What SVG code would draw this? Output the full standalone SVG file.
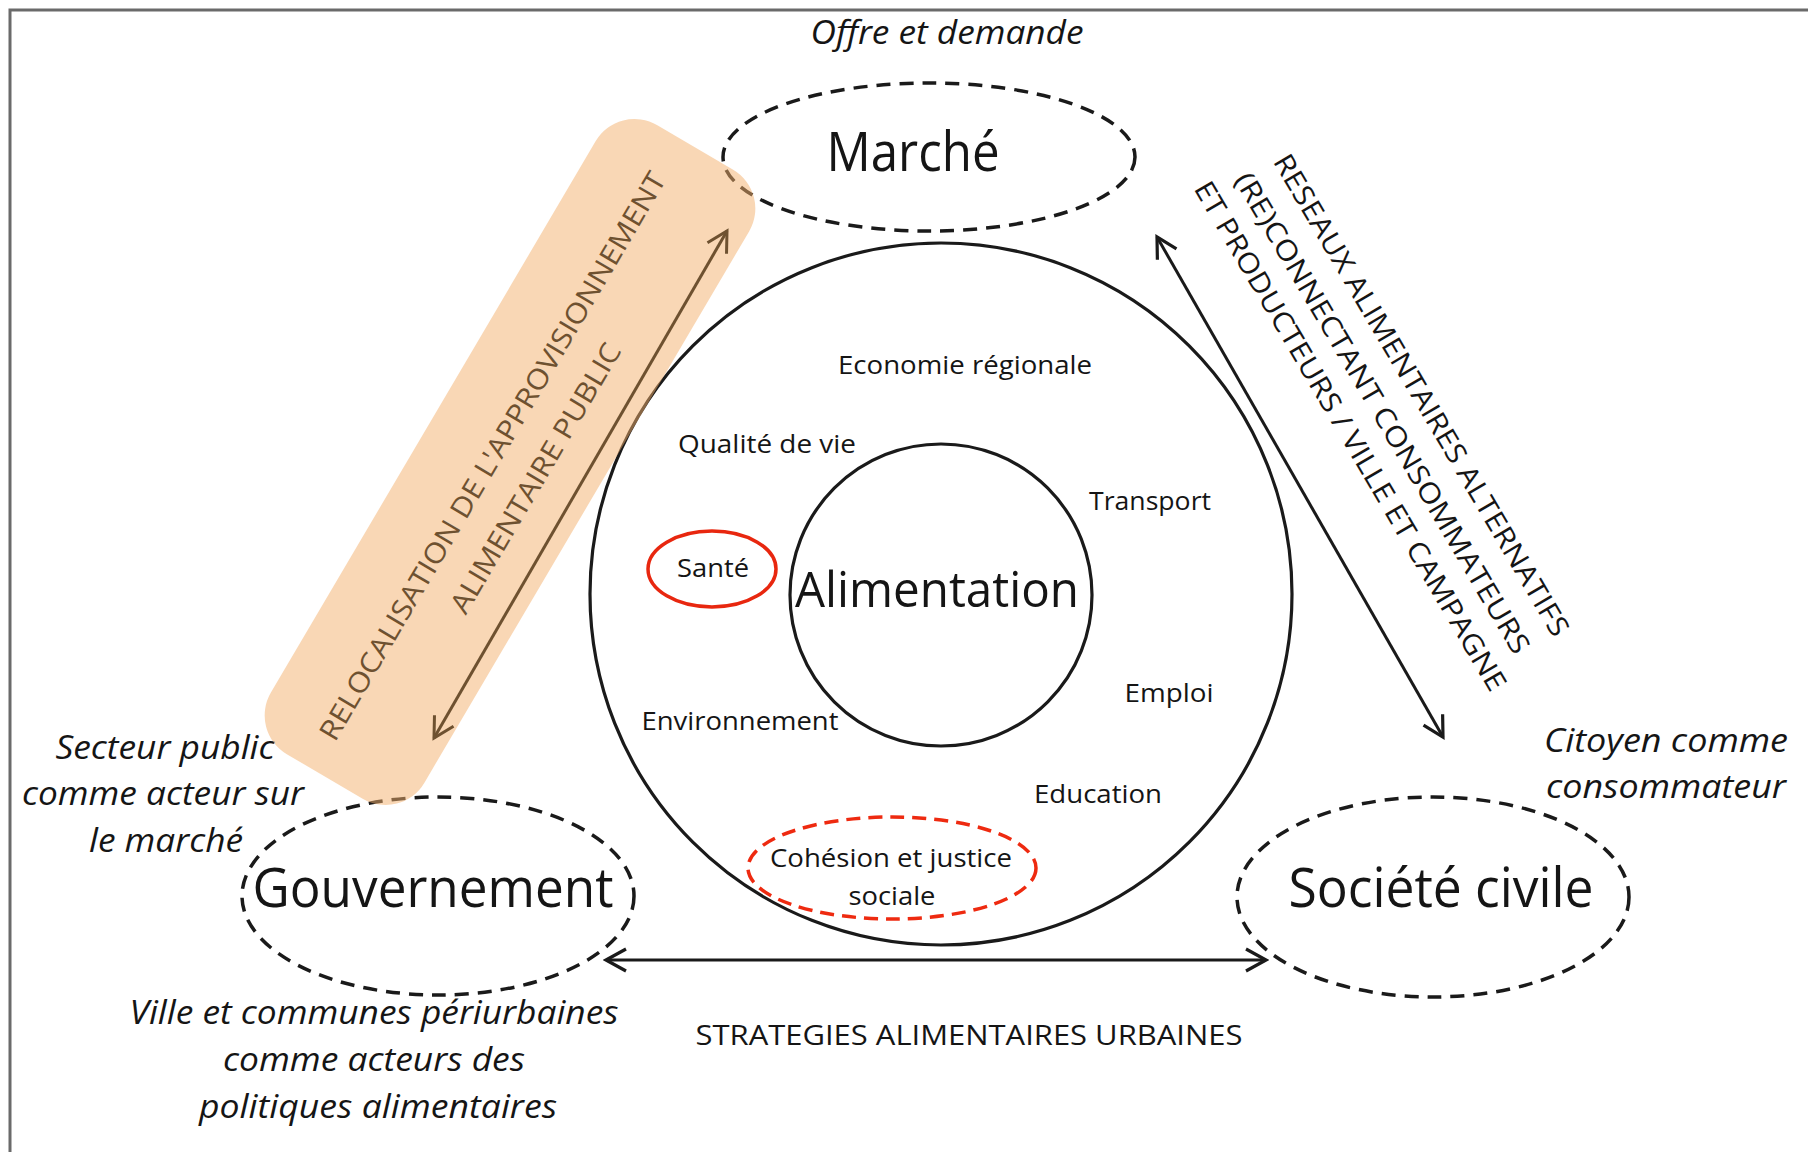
<svg xmlns="http://www.w3.org/2000/svg" width="1808" height="1152" viewBox="0 0 1808 1152">
<style>
.t{font-family:"Open Sans","Liberation Sans",sans-serif;fill:#151515;}
.it{font-family:"Open Sans","Liberation Sans",sans-serif;font-style:italic;fill:#151515;font-size:33px;}
.lab{font-size:26px;}
.big{font-size:55px;}
.dash{fill:none;stroke:#1a1a1a;stroke-width:3.5;stroke-dasharray:14 9;}
.caps{font-family:"Open Sans","Liberation Sans",sans-serif;font-size:28px;}
</style>
<defs>
<marker id="ahb" viewBox="0 0 26 26" refX="23" refY="13" markerWidth="26" markerHeight="26" markerUnits="userSpaceOnUse" orient="auto-start-reverse">
<path d="M3,2 L23,13 L3,24" fill="none" stroke="#1a1a1a" stroke-width="3.2"/>
</marker>
<marker id="ahbr" viewBox="0 0 26 26" refX="23" refY="13" markerWidth="26" markerHeight="26" markerUnits="userSpaceOnUse" orient="auto-start-reverse">
<path d="M3,2 L23,13 L3,24" fill="none" stroke="#6e5130" stroke-width="3"/>
</marker>
</defs>
<rect width="1808" height="1152" fill="#ffffff"/>
<path d="M10,1152 V10 H1808" fill="none" stroke="#6a6a6a" stroke-width="3"/>

<g id="alimentation-outer">
<circle cx="941" cy="594" r="351" fill="none" stroke="#1a1a1a" stroke-width="3.2"/>
<text class="t lab" x="965" y="374" text-anchor="middle" textLength="254" lengthAdjust="spacingAndGlyphs">Economie régionale</text>
<text class="t lab" x="767" y="453" text-anchor="middle" textLength="178" lengthAdjust="spacingAndGlyphs">Qualité de vie</text>
<text class="t lab" x="1150" y="510" text-anchor="middle" textLength="122" lengthAdjust="spacingAndGlyphs">Transport</text>
<text class="t lab" x="1169" y="702" text-anchor="middle" textLength="89" lengthAdjust="spacingAndGlyphs">Emploi</text>
<text class="t lab" x="740" y="730" text-anchor="middle" textLength="197" lengthAdjust="spacingAndGlyphs">Environnement</text>
<text class="t lab" x="1098" y="803" text-anchor="middle" textLength="128" lengthAdjust="spacingAndGlyphs">Education</text>
</g>

<g id="sante">
<ellipse cx="712" cy="569" rx="64" ry="38" fill="none" stroke="#e8270f" stroke-width="3.5"/>
<text class="t lab" x="713" y="577" text-anchor="middle" textLength="72" lengthAdjust="spacingAndGlyphs">Santé</text>
</g>

<g id="cohesion">
<ellipse cx="892" cy="868" rx="144" ry="51" fill="none" stroke="#ee2a10" stroke-width="3.5" stroke-dasharray="14 8"/>
<text class="t lab" x="891" y="867" text-anchor="middle" textLength="242" lengthAdjust="spacingAndGlyphs">Cohésion et justice</text>
<text class="t lab" x="892" y="905" text-anchor="middle" textLength="87" lengthAdjust="spacingAndGlyphs">sociale</text>
</g>

<g id="alimentation-inner">
<circle cx="941" cy="595" r="151" fill="none" stroke="#1a1a1a" stroke-width="3.2"/>
<text class="t" x="937" y="607" font-size="50" text-anchor="middle" textLength="284" lengthAdjust="spacingAndGlyphs">Alimentation</text>
</g>

<g id="marche">
<text class="it" x="947" y="44" text-anchor="middle" textLength="273" lengthAdjust="spacingAndGlyphs">Offre et demande</text>
<ellipse class="dash" cx="929" cy="157" rx="206" ry="74"/>
<text class="t big" x="913" y="171" text-anchor="middle" textLength="173" lengthAdjust="spacingAndGlyphs">Marché</text>
</g>

<g id="gouvernement">
<ellipse class="dash" cx="438" cy="896" rx="196" ry="99"/>
<text class="t big" x="433" y="907" text-anchor="middle" textLength="361" lengthAdjust="spacingAndGlyphs">Gouvernement</text>
<text class="it" x="165" y="759" text-anchor="middle" textLength="219" lengthAdjust="spacingAndGlyphs">Secteur public</text>
<text class="it" x="163" y="805" text-anchor="middle" textLength="282" lengthAdjust="spacingAndGlyphs">comme acteur sur</text>
<text class="it" x="166" y="852" text-anchor="middle" textLength="154" lengthAdjust="spacingAndGlyphs">le marché</text>
<text class="it" x="374" y="1024" text-anchor="middle" textLength="489" lengthAdjust="spacingAndGlyphs">Ville et communes périurbaines</text>
<text class="it" x="374" y="1071" text-anchor="middle" textLength="302" lengthAdjust="spacingAndGlyphs">comme acteurs des</text>
<text class="it" x="378" y="1118" text-anchor="middle" textLength="358" lengthAdjust="spacingAndGlyphs">politiques alimentaires</text>
</g>

<g id="societe-civile">
<ellipse class="dash" cx="1433" cy="897" rx="196" ry="100"/>
<text class="t big" x="1441" y="907" text-anchor="middle" textLength="305" lengthAdjust="spacingAndGlyphs">Société civile</text>
<text class="it" x="1666" y="752" text-anchor="middle" textLength="244" lengthAdjust="spacingAndGlyphs">Citoyen comme</text>
<text class="it" x="1666" y="798" text-anchor="middle" textLength="240" lengthAdjust="spacingAndGlyphs">consommateur</text>
</g>

<g id="connectors">
<line x1="606" y1="960" x2="1266" y2="960" stroke="#1a1a1a" stroke-width="3.2" marker-start="url(#ahb)" marker-end="url(#ahb)"/>
<text class="caps" x="969" y="1045" fill="#151515" text-anchor="middle" textLength="547" lengthAdjust="spacingAndGlyphs">STRATEGIES ALIMENTAIRES URBAINES</text>
<line x1="1157" y1="237" x2="1443" y2="737" stroke="#1a1a1a" stroke-width="3" marker-start="url(#ahb)" marker-end="url(#ahb)"/>
<g class="caps" fill="#151515" text-anchor="middle">
<text transform="translate(1413,400) rotate(59.5)" textLength="554" lengthAdjust="spacingAndGlyphs">RESEAUX ALIMENTAIRES ALTERNATIFS</text>
<text transform="translate(1374,418) rotate(59.5)" textLength="553" lengthAdjust="spacingAndGlyphs">(RE)CONNECTANT CONSOMMATEURS</text>
<text transform="translate(1342,441) rotate(59.5)" textLength="586" lengthAdjust="spacingAndGlyphs">ET PRODUCTEURS / VILLE ET CAMPAGNE</text>
</g>
</g>

<g id="relocalisation">
<rect x="-365" y="-89" width="730" height="178" rx="45" transform="translate(510,462) rotate(-59.5)" fill="#f3b06b" fill-opacity="0.5"/>
<line x1="434" y1="738" x2="727" y2="231" stroke="#6e5130" stroke-width="3" marker-start="url(#ahbr)" marker-end="url(#ahbr)"/>
<g class="caps" fill="#6e5130" text-anchor="middle">
<text transform="translate(501,461) rotate(-59.5)" textLength="654" lengthAdjust="spacingAndGlyphs">RELOCALISATION DE L'APPROVISIONNEMENT</text>
<text transform="translate(544,483) rotate(-59.5)" textLength="308" lengthAdjust="spacingAndGlyphs">ALIMENTAIRE PUBLIC</text>
</g>
</g>
</svg>
